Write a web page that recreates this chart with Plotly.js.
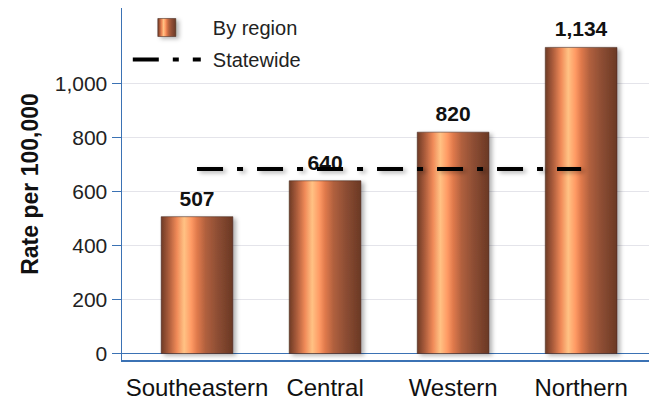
<!DOCTYPE html>
<html>
<head>
<meta charset="utf-8">
<script src="https://cdn.plot.ly/plotly-3.0.1.min.js"></script>
<style>
html,body{margin:0;padding:0;background:#fff;}
#chart{width:649px;height:402px;}
</style>
</head>
<body>
<div id="chart"></div>
<script>
const regions = ["Southeastern", "Central", "Western", "Northern"];
const rates = [507, 640, 820, 1134];
const statewideRate = 684;
const yTickVals = [0, 200, 400, 600, 800, 1000];

const FONT = "Arial, 'Liberation Sans', sans-serif";
const BLUE = "#3b72b4";

const barTrace = {
  type: "bar",
  name: "By region",
  x: regions,
  y: rates,
  width: 0.56,
  marker: { color: "#e8844f", line: { color: "rgba(70,40,30,0.55)", width: 1 } },
  texttemplate: "%{y:,}",
  textposition: "outside",
  textfont: { family: FONT, size: 21, color: "#111", weight: "bold" },
  cliponaxis: false,
  legendgroup: "a",
  hoverinfo: "skip"
};

const stateTrace = {
  type: "scatter",
  mode: "lines",
  name: "Statewide",
  x: regions,
  y: regions.map(() => statewideRate),
  line: { color: "#000", width: 4, dash: "26px,14px,6px,14px" },
  legendgroup: "b",
  hoverinfo: "skip"
};

const layout = {
  width: 649,
  height: 402,
  margin: { l: 122, r: 0, t: 8, b: 42 },
  paper_bgcolor: "#fff",
  plot_bgcolor: "#fff",
  font: { family: FONT, color: "#222" },
  showlegend: true,
  legend: {
    x: 0.011, y: 1.0, xanchor: "left", yanchor: "top",
    bgcolor: "rgba(0,0,0,0)",
    font: { family: FONT, size: 20, color: "#222" },
    itemwidth: 68,
    tracegroupgap: 3
  },
  xaxis: {
    type: "category",
    range: [-0.586, 3.53],
    showline: true, linecolor: BLUE, linewidth: 1.5,
    showgrid: false,
    ticks: "",
    ticklabelstandoff: 6,
    tickfont: { family: FONT, size: 24, color: "#111" },
    fixedrange: true
  },
  yaxis: {
    range: [-24, 1280],
    tickvals: yTickVals,
    tickformat: ",",
    showline: true, linecolor: BLUE, linewidth: 1.5,
    ticks: "outside", ticklen: 9, tickcolor: BLUE, tickwidth: 1.5,
    gridcolor: "#e4e4ea", gridwidth: 1.5,
    zeroline: true, zerolinecolor: BLUE, zerolinewidth: 1.5,
    tickfont: { family: FONT, size: 21, color: "#222" },
    title: { text: "Rate per 100,000", font: { family: FONT, size: 23, color: "#111", weight: "bold" }, standoff: 9 },
    fixedrange: true
  }
};

Plotly.newPlot("chart", [barTrace, stateTrace], layout, { displayModeBar: false, staticPlot: true }).then(function (gd) {
  const svgNS = "http://www.w3.org/2000/svg";
  const svg = gd.querySelector("svg.main-svg");
  let defs = svg.querySelector("defs");
  if (!defs) { defs = document.createElementNS(svgNS, "defs"); svg.insertBefore(defs, svg.firstChild); }
  const grad = document.createElementNS(svgNS, "linearGradient");
  grad.setAttribute("id", "barGrad");
  grad.setAttribute("x1", "0"); grad.setAttribute("y1", "0");
  grad.setAttribute("x2", "1"); grad.setAttribute("y2", "0");
  const stops = [
    [0, "#6e3a26"], [0.1, "#a85a3a"], [0.22, "#f08a58"], [0.32, "#ffc284"],
    [0.42, "#ff9a64"], [0.5, "#e07a4c"], [0.62, "#b0603e"], [0.78, "#8e4e34"], [1, "#6a3824"]
  ];
  stops.forEach(function (s) {
    const st = document.createElementNS(svgNS, "stop");
    st.setAttribute("offset", s[0]);
    st.setAttribute("stop-color", s[1]);
    grad.appendChild(st);
  });
  defs.appendChild(grad);
  const filt = document.createElementNS(svgNS, "filter");
  filt.setAttribute("id", "shadow");
  filt.setAttribute("filterUnits", "userSpaceOnUse");
  filt.setAttribute("x", "-300"); filt.setAttribute("y", "-300");
  filt.setAttribute("width", "1400"); filt.setAttribute("height", "1100");
  filt.innerHTML = '<feDropShadow dx="3" dy="2" stdDeviation="2" flood-color="#000" flood-opacity="0.3"/>';
  defs.appendChild(filt);

  gd.querySelectorAll(".trace.bars .point path").forEach(function (p) {
    p.style.fill = "url(#barGrad)";
    p.setAttribute("filter", "url(#shadow)");
  });
  gd.querySelectorAll(".trace.bars .point text").forEach(function (t) {
    const old = t.getAttribute("transform") || "";
    t.setAttribute("transform", "translate(0,-4) " + old);
  });
  const legendItems = gd.querySelectorAll(".legend .traces");
  if (legendItems.length) {
    legendItems[0].querySelectorAll(".legendpoints path").forEach(function (p) {
      p.setAttribute("d", "M9,9H-9V-9H9Z");
      p.style.fill = "url(#barGrad)";
      p.setAttribute("filter", "url(#shadow)");
    });
  }
  gd.querySelectorAll(".legend .legendtext").forEach(function (t) {
    const x = parseFloat(t.getAttribute("x") || "0");
    t.setAttribute("x", x + 7);
  });
  gd.querySelectorAll(".legend .scrollbox, .legend").forEach(function (g) {
    g.removeAttribute("clip-path");
  });
  gd.querySelectorAll(".scatterlayer .js-line").forEach(function (p) {
    p.setAttribute("filter", "url(#shadow)");
  });
});
</script>
</body>
</html>
